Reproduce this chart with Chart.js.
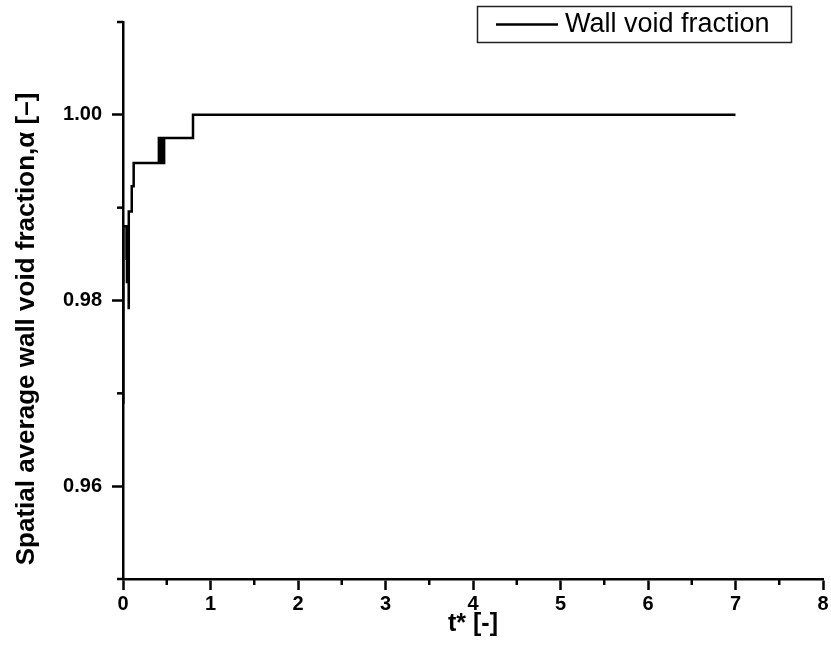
<!DOCTYPE html>
<html>
<head>
<meta charset="utf-8">
<script src="https://cdn.jsdelivr.net/npm/chart.js@4.4.1/dist/chart.umd.min.js"></script>
<style>
    html, body { margin: 0; padding: 0; background: #fff; }
    #chart_wrap { position: relative; width: 831px; height: 645px; }
</style>
</head>
<body>
<div id="chart_wrap"><canvas id="chart_void"></canvas></div>
<script>
// Chart data
var tValues = [0.000, 0.004, 0.040, 0.045, 0.065, 0.066, 0.100, 0.122,
               0.410, 0.420, 0.430, 0.440, 0.450, 0.460, 0.470, 0.800, 7.000];
var alphaValues = [0.9690, 0.9880, 0.9845, 0.9820, 0.9792, 0.9896, 0.9923, 0.9948,
                   0.9975, 0.9948, 0.9975, 0.9948, 0.9975, 0.9948, 0.9975, 1.0000, 1.0000];
var xTickLabels = ["0", "1", "2", "3", "4", "5", "6", "7", "8"];
var yTickLabels = ["0.96", "0.98", "1.00"];
var seriesLabel = "Wall void fraction";
var xTitle = "t* [-]";
var yTitle = "Spatial average wall void fraction,\u03B1 [\u2013]";

var fontName = "'Liberation Sans', Arial, sans-serif";

function isMajorX(v) {
    return Math.abs(v - Math.round(v)) < 1e-6 && xTickLabels.indexOf(String(Math.round(v))) !== -1;
}
function yLabel(v) {
    var s = v.toFixed(2);
    return yTickLabels.indexOf(s) !== -1 ? s : "";
}

// short minor ticks, y title and the boxed legend
var extrasPlugin = {
    id: 'extras',
    afterDraw: function(chart) {
        var ctx = chart.ctx;
        var xs = chart.scales.x, ys = chart.scales.y;
        var area = chart.chartArea;
        ctx.save();
        ctx.strokeStyle = '#000';
        ctx.lineWidth = 2.5;
        xs.ticks.forEach(function(t) {
            if (isMajorX(t.value)) return;
            var px = xs.getPixelForValue(t.value);
            ctx.beginPath();
            ctx.moveTo(px, area.bottom);
            ctx.lineTo(px, area.bottom + 6);
            ctx.stroke();
        });
        ys.ticks.forEach(function(t) {
            if (yLabel(t.value) !== "") return;
            var py = ys.getPixelForValue(t.value);
            ctx.beginPath();
            ctx.moveTo(area.left, py);
            ctx.lineTo(area.left - 6, py);
            ctx.stroke();
        });

        // y title
        ctx.fillStyle = '#000';
        ctx.font = "bold 26px " + fontName;
        ctx.textAlign = 'center';
        ctx.textBaseline = 'middle';
        ctx.translate(27, 329);
        ctx.rotate(-Math.PI / 2);
        ctx.fillText(yTitle, 0, 0);
        ctx.restore();

        // legend
        ctx.save();
        ctx.strokeStyle = '#222';
        ctx.lineWidth = 1.5;
        ctx.strokeRect(477.5, 6.5, 314, 36);
        ctx.strokeStyle = '#000';
        ctx.lineWidth = 2.5;
        ctx.beginPath();
        ctx.moveTo(496, 24.5);
        ctx.lineTo(558, 24.5);
        ctx.stroke();
        ctx.fillStyle = '#000';
        ctx.font = "27px " + fontName;
        ctx.textAlign = 'left';
        ctx.textBaseline = 'middle';
        ctx.fillText(chart.data.datasets[0].label, 565, 25);
        ctx.restore();
    }
};

// Get Chart Data
var objData = {
    datasets: [
        {
            label: seriesLabel,
            data: tValues.map(function(t, i) { return { x: t, y: alphaValues[i] }; }),
            showLine: true,
            stepped: true,
            borderColor: '#000',
            borderWidth: 2.5,
            pointRadius: 0,
            fill: false
        }
    ]
};

// Config Options
var objOptions = {
    responsive: false,
    animation: false,
    layout: { padding: { top: 13, right: 8, bottom: 0, left: 0 } },
    plugins: {
        legend: { display: false },
        tooltip: { enabled: false }
    },
    scales: {
        x: {
            type: 'linear',
            min: 0,
            max: 8,
            afterFit: function(scale) { scale.height = 66; },
            border: { display: true, color: '#000', width: 2.5 },
            grid: {
                drawOnChartArea: false,
                tickLength: 11,
                tickWidth: 2.5,
                tickColor: function(c) { return isMajorX(c.tick.value) ? '#000' : 'rgba(0,0,0,0)'; }
            },
            ticks: {
                stepSize: 0.5,
                autoSkip: false,
                maxRotation: 0,
                padding: 2,
                color: '#000',
                font: { family: fontName, size: 20, weight: 'bold' },
                callback: function(v) { return isMajorX(v) ? String(Math.round(v)) : ""; }
            },
            title: {
                display: true,
                text: xTitle,
                color: '#000',
                font: { family: fontName, size: 25, weight: 'bold' },
                padding: { top: 0, bottom: 6 }
            }
        },
        y: {
            type: 'linear',
            min: 0.95,
            max: 1.01,
            afterFit: function(scale) { scale.width = 123; },
            border: { display: true, color: '#000', width: 2.5 },
            grid: {
                drawOnChartArea: false,
                tickLength: 11,
                tickWidth: 2.5,
                tickColor: function(c) { return yLabel(c.tick.value) !== "" ? '#000' : 'rgba(0,0,0,0)'; }
            },
            ticks: {
                stepSize: 0.01,
                autoSkip: false,
                padding: 10,
                color: '#000',
                font: { family: fontName, size: 20, weight: 'bold' },
                callback: function(v) { return yLabel(v); }
            }
        }
    }
};

// Draw Chart
var elChart = document.getElementById('chart_void');
elChart.width = 831;
elChart.height = 645;
var objChart = new Chart(elChart, {
    type: 'scatter',
    data: objData,
    options: objOptions,
    plugins: [extrasPlugin]
});
</script>
</body>
</html>
